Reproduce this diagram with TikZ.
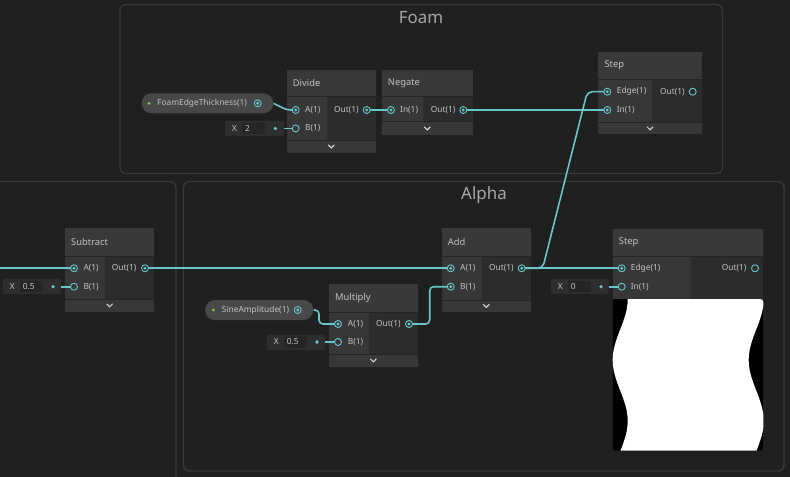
\documentclass[tikz,border=0pt]{standalone}
\usepackage{fontspec}
\setmainfont{Noto Sans}
\usetikzlibrary{calc}
\definecolor{bgc}{RGB}{32,32,32}
\definecolor{grpc}{RGB}{58,58,58}
\definecolor{hdr}{RGB}{57,57,57}
\definecolor{inbg}{RGB}{55,55,55}
\definecolor{outbg}{RGB}{44,44,44}
\definecolor{ftr}{RGB}{56,56,56}
\definecolor{sepc}{RGB}{36,36,36}
\definecolor{wirec}{RGB}{104,198,203}
\definecolor{txt}{RGB}{195,195,195}
\definecolor{ttlc}{RGB}{168,168,168}
\definecolor{pillc}{RGB}{72,72,72}
\definecolor{fieldc}{RGB}{46,46,46}
\definecolor{fieldin}{RGB}{37,37,37}
\definecolor{greendot}{RGB}{140,210,60}
\pgfdeclarelayer{bg}\pgfdeclarelayer{boxes}\pgfdeclarelayer{wirel}
\pgfsetlayers{bg,boxes,wirel,main}
\tikzset{
  grp/.style={draw=grpc, line width=1.3bp, rounded corners=6bp},
  wire/.style={draw=wirec, line width=1.6bp, rounded corners=4bp},
  inport/.style={circle, draw=wirec, line width=0.9bp, fill=inbg, minimum size=7bp, inner sep=0pt,
     path picture={\fill[wirec] (path picture bounding box.center) circle (1.6bp);}},
  openport/.style={circle, draw=wirec, line width=0.9bp, fill=inbg, minimum size=7bp, inner sep=0pt},
  lbl/.style={text=txt, font=\fontsize{8.4}{10}\selectfont, anchor=west, inner sep=0pt},
  ttl/.style={text=txt, font=\fontsize{9.4}{11}\selectfont, anchor=west, inner sep=0pt},
  gtitle/.style={text=ttlc, font=\fontsize{17}{20}\selectfont, inner sep=0pt},
  chev/.style={draw=white!88!black, line width=1bp},
  pill/.style={fill=pillc, rounded corners=10bp, minimum height=20bp, inner sep=0pt},
  gdot/.style={circle, fill=greendot, minimum size=3bp, inner sep=0pt},
  fdot/.style={circle, fill=wirec, minimum size=3.6bp, inner sep=0pt},
  fbox/.style={fill=fieldc, minimum width=58.3bp, minimum height=15bp, inner sep=0pt, anchor=west},
  fin/.style={fill=fieldin, minimum width=22.5bp, minimum height=11bp, inner sep=0pt, anchor=west, rounded corners=1bp},
}
% #1 name, #2 title, #3 left, #4 top, #5 right, #6 header bottom, #7 divider, #8 body bottom
\newcommand\sgbox[8]{%
  \begin{pgfonlayer}{boxes}
    \fill[hdr] (#3,#4) rectangle (#5,#6);
    \fill[inbg] (#3,#6) rectangle (#7,#8);
    \fill[outbg] (#7,#6) rectangle (#5,#8);
    \draw[sepc, line width=0.8bp] (#3,#6) -- (#5,#6);
  \end{pgfonlayer}
  \node[ttl] (#1) at ({#3+6},{(#4+#6)/2}) {#2};
}
% #1 left, #2 top, #3 right, #4 bottom
\newcommand\sgfoot[4]{%
  \begin{pgfonlayer}{boxes}
    \fill[ftr] (#1,#2) rectangle (#3,#4);
    \draw[sepc, line width=0.8bp] (#1,#2) -- (#3,#2);
  \end{pgfonlayer}
  \draw[chev] ({(#1+#3)/2-3},{(#2+#4)/2-1.5}) -- ({(#1+#3)/2},{(#2+#4)/2+1.5}) -- ({(#1+#3)/2+3},{(#2+#4)/2-1.5});
}
% #1 name, #2 left, #3 center y, #4 value
\newcommand\xfield[4]{%
  \node[fbox] (#1) at (#2,#3) {};
  \node[lbl] (#1x) at ({#2+7},#3) {X};
  \node[fin] (#1v) at ({#2+17.5},#3) {};
  \node[lbl] (#1t) at ({#2+20},#3) {#4};
  \node[fdot] (#1d) at ({#2+50.3},#3) {};
}
\begin{document}
\begin{tikzpicture}[x=1bp,y=-1bp]
\useasboundingbox (0,0) rectangle (790,477);
\begin{pgfonlayer}{bg}
  \fill[bgc] (0,0) rectangle (790,477);
  \draw[grp] (120,4.5) rectangle (722.5,173.5);
  \draw[grp] (183.5,181.5) rectangle (784,471);
  \draw[grp] (-10,181.5) rectangle (176,495);
\end{pgfonlayer}
\node[gtitle] (foamT) at (421,18) {Foam};
\node[gtitle] (alphaT) at (484,195) {Alpha};

% ---------- Foam ----------
\sgbox{divide}{Divide}{286.7}{70}{375.7}{96.7}{327.3}{140}
\sgfoot{286.7}{140}{375.7}{152.7}
\node[inport] (divA) at (295.7,110) {};
\node[openport] (divB) at (295.7,128.4) {};
\node[lbl] (divAl) at (305,110) {A(1)};
\node[lbl] (divBl) at (305,128.4) {B(1)};
\node[lbl] (divOl) at (334,110) {Out(1)};
\node[inport, fill=outbg] (divO) at (366.7,110) {};

\sgbox{negate}{Negate}{381.7}{70}{472.7}{96.7}{422.7}{121.7}
\sgfoot{381.7}{121.7}{472.7}{135}
\node[inport] (negI) at (391,110) {};
\node[lbl] (negIl) at (400,110) {In(1)};
\node[lbl] (negOl) at (430.7,110) {Out(1)};
\node[inport, fill=outbg] (negO) at (463.3,110) {};

\sgbox{step1}{Step}{598.3}{51.7}{701.7}{79.3}{652.3}{122.3}
\sgfoot{598.3}{122.3}{701.7}{134.3}
\node[inport] (s1E) at (607.3,91.7) {};
\node[inport] (s1I) at (607.3,110) {};
\node[lbl] (s1El) at (616.7,91.7) {Edge(1)};
\node[lbl] (s1Il) at (616.7,110) {In(1)};
\node[lbl] (s1Ol) at (660,91.7) {Out(1)};
\node[openport, fill=outbg] (s1O) at (692.7,91.7) {};

\node[pill, minimum width=131.6bp] (foamP) at (207.5,103.3) {};
\node[gdot] (foamG) at (149,103.3) {};
\node[lbl] (foamL) at (157,103.3) {FoamEdgeThickness(1)};
\node[inport, fill=pillc] (foamPo) at (257.7,103.3) {};

\xfield{xa}{225}{128.4}{2}

% ---------- Left ----------
\sgbox{subtract}{Subtract}{65}{228.3}{154.3}{256}{105.3}{299}
\sgfoot{65}{299}{154.3}{311.7}
\node[inport] (subA) at (74,268.3) {};
\node[openport] (subB) at (74,286.7) {};
\node[lbl] (subAl) at (83.3,268.3) {A(1)};
\node[lbl] (subBl) at (83.3,286.7) {B(1)};
\node[lbl] (subOl) at (111.7,268.3) {Out(1)};
\node[inport, fill=outbg] (subO) at (145,268.3) {};
\xfield{xb}{2.7}{286.7}{0.5}
\coordinate (leftIn) at (-2,268.3);

% ---------- Alpha ----------
\sgbox{add}{Add}{441.7}{228.3}{530.7}{256}{482.3}{300}
\sgfoot{441.7}{300}{530.7}{311.7}
\node[inport] (addA) at (450.7,268.3) {};
\node[inport] (addB) at (450.7,286.7) {};
\node[lbl] (addAl) at (460,268.3) {A(1)};
\node[lbl] (addBl) at (460,286.7) {B(1)};
\node[lbl] (addOl) at (489,268.3) {Out(1)};
\node[inport, fill=outbg] (addO) at (521.7,268.3) {};

\sgbox{multiply}{Multiply}{329}{284}{417.7}{312.3}{369.3}{354}
\sgfoot{329}{354}{417.7}{366.7}
\node[inport] (mulA) at (338,324) {};
\node[openport] (mulB) at (338,342) {};
\node[lbl] (mulAl) at (347.7,324) {A(1)};
\node[lbl] (mulBl) at (347.7,342) {B(1)};
\node[lbl] (mulOl) at (376,324) {Out(1)};
\node[inport, fill=outbg] (mulO) at (409,324) {};

\node[pill, minimum width=108.3bp] (sineP) at (259.2,310) {};
\node[gdot] (sineG) at (213.3,310) {};
\node[lbl] (sineL) at (221.7,310) {SineAmplitude(1)};
\node[inport, fill=pillc] (sinePo) at (297.7,310) {};
\xfield{xc}{266.7}{342}{0.5}

\sgbox{step2}{Step}{612.7}{229}{763.3}{256}{690.7}{299}
\node[inport] (s2E) at (621.7,268.3) {};
\node[openport] (s2I) at (621.7,286.7) {};
\node[lbl] (s2El) at (630.7,268.3) {Edge(1)};
\node[lbl] (s2Il) at (630.7,286.7) {In(1)};
\node[lbl] (s2Ol) at (721.7,268.3) {Out(1)};
\node[openport, fill=outbg] (s2O) at (755,268.3) {};
\xfield{xd}{550.7}{286.7}{0}

\begin{pgfonlayer}{boxes}
  \begin{scope}
    \clip (612.7,299) [rounded corners=3bp] -- (612.7,450.7) -- (763.3,450.7) -- (763.3,299) [sharp corners] -- cycle;
    \fill[black] (612.7,299) rectangle (763.3,450.7);
    \fill[white] plot[domain=299:450.7, samples=70] ({620.2+7.5*cos(2.951*(\x-299))}, \x)
      -- plot[domain=450.7:299, samples=70] ({756.2+7.5*cos(2.951*(\x-299))}, \x) -- cycle;
  \end{scope}
\end{pgfonlayer}

% ---------- Wires ----------
\begin{pgfonlayer}{wirel}
  \draw[wire] (foamP.east) -- ([xshift=-9bp]divA.center) -- (divA.center);
  \draw[wire] (xad.center) -- (divB.center);
  \draw[wire] (divO.center) -- (negI.center);
  \draw[wire] (negO.center) -- (s1I.center);
  \draw[wire, rounded corners=5bp] (addO.center) -- ([xshift=21bp]addO.center) -- ([xshift=-20bp]s1E.center) -- (s1E.center);
  \draw[wire] (addO.center) -- (s2E.center);
  \draw[wire] (subO.center) -- (addA.center);
  \draw[wire] (leftIn) -- (subA.center);
  \draw[wire] (xbd.center) -- (subB.center);
  \draw[wire] (sineP.east) -| ([xshift=-19bp]mulA.center) -- (mulA.center);
  \draw[wire] (xcd.center) -- (mulB.center);
  \draw[wire] (mulO.center) -| ([xshift=-21bp]addB.center) -- (addB.center);
  \draw[wire] (xdd.center) -- (s2I.center);
\end{pgfonlayer}
\end{tikzpicture}
\end{document}
